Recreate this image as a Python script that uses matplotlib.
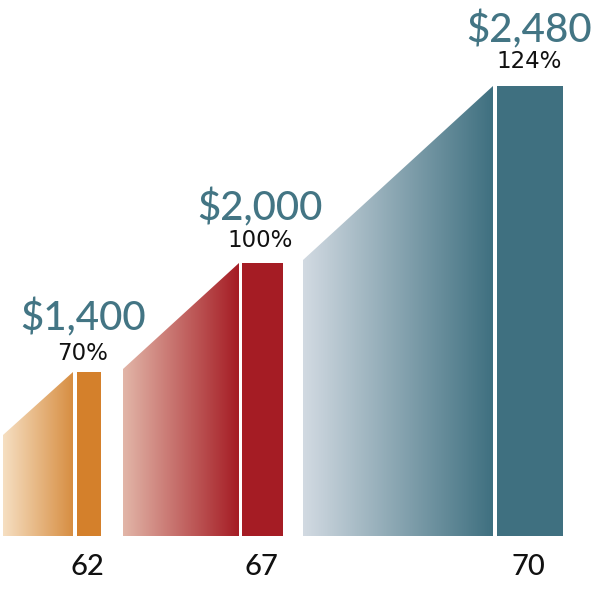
import numpy as np
import matplotlib
matplotlib.use('Agg')
import matplotlib.pyplot as plt
from matplotlib.colors import LinearSegmentedColormap
from matplotlib.patches import Polygon, Rectangle

# data
ages = ['62', '67', '70']
benefits = ['$1,400', '$2,000', '$2,480']
percents = ['70%', '100%', '124%']
# visual heights (bar top and ramp start)
bar_tops = [164, 273, 450]
ramp_starts = [101, 167, 276]

# layout (pixels)
ramp_x0 = [3, 123, 303]
ramp_x1 = [73, 239, 493]
bar_x0 = [77, 242, 497]
bar_x1 = [101, 283, 563]
label_cx = [83, 260, 529]
age_cx = [87, 261, 528]
pct_off = [12, 16, 18]
val_off = [42, 43, 44]

light = ['#F6DFC2', '#E2B6A8', '#D2DAE2']
dark = ['#D78E42', '#A51C24', '#3F7080']
solid = ['#D4802B', '#A51C24', '#3F7080']
TEAL = '#437584'

plt.rcParams['font.family'] = ['Lato', 'DejaVu Sans']

fig = plt.figure(figsize=(6, 6), dpi=100)
ax = fig.add_axes([0, 0, 1, 1])
ax.set_xlim(0, 600)
ax.set_ylim(-64, 536)
ax.axis('off')

for i in range(len(ages)):
    x0, x1 = ramp_x0[i], ramp_x1[i]
    cmap = LinearSegmentedColormap.from_list('g%d' % i, [light[i], dark[i]])
    grad = np.linspace(0, 1, 256).reshape(1, -1)
    im = ax.imshow(grad, cmap=cmap, aspect='auto',
                   extent=(x0, x1, 0, bar_tops[i]), origin='lower', zorder=2)
    poly = Polygon([(x0, 0), (x0, ramp_starts[i]), (x1, bar_tops[i]), (x1, 0)],
                   closed=True, facecolor='none', edgecolor='none')
    ax.add_patch(poly)
    im.set_clip_path(poly)

    ax.add_patch(Rectangle((bar_x0[i], 0), bar_x1[i] - bar_x0[i], bar_tops[i],
                           facecolor=solid[i], edgecolor='none', zorder=2))

    ax.text(label_cx[i], bar_tops[i] + pct_off[i], percents[i], ha='center',
            va='baseline', fontsize=16.5, color='#111111', family='DejaVu Sans',
            fontweight='normal')
    ax.text(label_cx[i], bar_tops[i] + val_off[i], benefits[i], ha='center',
            va='baseline', fontsize=29, color=TEAL, fontweight='medium')
    ax.text(age_cx[i], -39, ages[i], ha='center', va='baseline', fontsize=21,
            color='#111111', fontweight='medium')

fig.savefig('out.png', dpi=100, facecolor='white')
